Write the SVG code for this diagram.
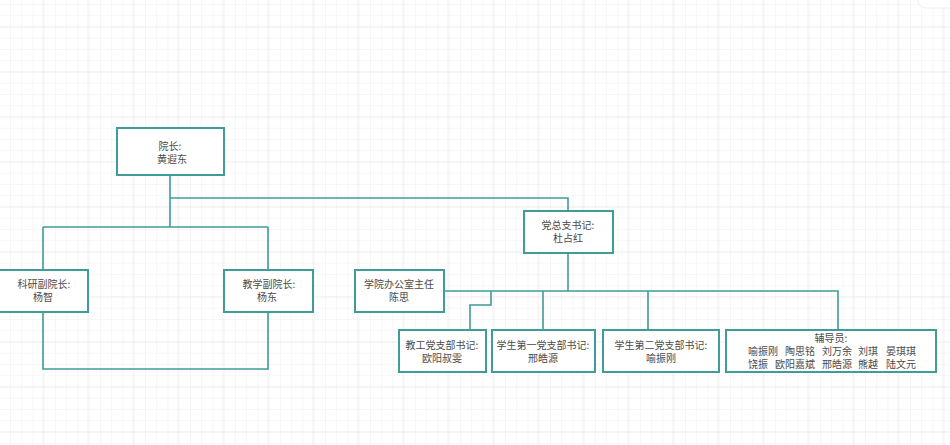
<svg xmlns="http://www.w3.org/2000/svg" width="950" height="445" viewBox="0 0 950 445">
<defs>
<pattern id="minor" x="-1.25" y="4" width="11.25" height="11.25" patternUnits="userSpaceOnUse">
<path d="M 11.25 0 L 0 0 0 11.25" fill="none" stroke="#efefef" stroke-width="1"/>
</pattern>
<pattern id="major" x="42.5" y="26.5" width="45" height="45" patternUnits="userSpaceOnUse">
<path d="M 45 0 L 0 0 0 45" fill="none" stroke="#e3e3e3" stroke-width="1"/>
</pattern>
<style>
.box{fill:#ffffff;stroke:#3f9c97;stroke-width:2}
.ln{fill:none;stroke:#3f9c97;stroke-width:1.6}
text{font-family:"Noto Sans CJK SC","Noto Sans",sans-serif;font-size:10px;fill:#4a4a4a;text-anchor:middle}
.l{text-anchor:start}
</style>
</defs>
<rect width="950" height="445" fill="#ffffff"/>
<rect width="950" height="445" fill="url(#minor)"/>
<rect width="950" height="445" fill="url(#major)"/>
<rect x="918" y="-20" width="60" height="28" rx="8" fill="#ffffff" stroke="#eeeeee"/>

<g id="connectors">
<path class="ln" d="M170 175 V227 M170 198 H568 V212 M43 227 H268 M43 227 V270 M268 227 V270"/>
<path class="ln" d="M43 312 V369 H268 V312"/>
<path class="ln" d="M568 253 V291 M444 291 H838 V330 M491 291 V305 H470 V330 M543 291 V330 M648 291 V330"/>
</g>

<g id="n-dean">
<rect class="box" x="117" y="128" width="107" height="47"/>
<text x="170" y="150">院长:</text>
<text x="172" y="163">黄遐东</text>
</g>
<g id="n-research">
<rect class="box" x="-2" y="270" width="90" height="42"/>
<text x="44" y="288">科研副院长:</text>
<text x="43" y="301">杨智</text>
</g>
<g id="n-teaching">
<rect class="box" x="224" y="270" width="89" height="42"/>
<text x="269" y="288">教学副院长:</text>
<text x="267" y="301">杨东</text>
</g>
<g id="n-party">
<rect class="box" x="524" y="211" width="89" height="42"/>
<text x="568" y="229">党总支书记:</text>
<text x="568" y="242">杜占红</text>
</g>
<g id="n-office">
<rect class="box" x="355" y="270" width="89" height="42"/>
<text x="399" y="288">学院办公室主任</text>
<text x="399" y="301">陈思</text>
</g>
<g id="n-staff">
<rect class="box" x="399" y="330" width="87" height="42"/>
<text x="442" y="349">教工党支部书记:</text>
<text x="442" y="362">欧阳叔雯</text>
</g>
<g id="n-student1">
<rect class="box" x="492" y="330" width="103" height="42"/>
<text x="543" y="349">学生第一党支部书记:</text>
<text x="543" y="362">邢皓源</text>
</g>
<g id="n-student2">
<rect class="box" x="603" y="330" width="116" height="42"/>
<text x="661" y="349">学生第二党支部书记:</text>
<text x="661" y="362">喻振刚</text>
</g>
<g id="n-counselor">
<rect class="box" x="726" y="330" width="210" height="42"/>
<text x="831" y="342">辅导员:</text>
<text class="l" y="355"><tspan x="748">喻振刚</tspan><tspan x="785">陶思铭</tspan><tspan x="822">刘万余</tspan><tspan x="858">刘琪</tspan><tspan x="886">晏琪琪</tspan></text>
<text class="l" y="368"><tspan x="748">饶振</tspan><tspan x="775">欧阳嘉斌</tspan><tspan x="822">邢皓源</tspan><tspan x="858">熊越</tspan><tspan x="886">陆文元</tspan></text>
</g>
</svg>
